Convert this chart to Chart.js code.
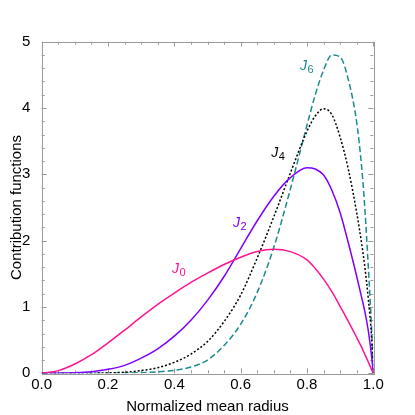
<!DOCTYPE html>
<html>
<head>
<meta charset="utf-8">
<script src="https://cdn.jsdelivr.net/npm/chart.js@4/dist/chart.umd.min.js"></script>
<style>
  html, body { margin: 0; padding: 0; background: #ffffff; }
  #wrap { width: 415px; height: 415px; }
</style>
</head>
<body>
<div id="wrap"><canvas id="c" width="415" height="415"></canvas></div>
<script>
// ---- data ----
const radius = [0, 0.05, 0.1, 0.15, 0.2, 0.25, 0.3, 0.35, 0.4, 0.45, 0.5, 0.55, 0.6, 0.65, 0.7, 0.75, 0.8, 0.825, 0.85, 0.875, 0.9, 0.925, 0.95, 0.965, 0.975, 0.985, 0.995, 1.0];
const J0 = [0, 0.04, 0.14, 0.28, 0.46, 0.65, 0.85, 1.04, 1.21, 1.37, 1.51, 1.64, 1.75, 1.835, 1.87, 1.835, 1.71, 1.58, 1.42, 1.23, 1.01, 0.78, 0.54, 0.39, 0.28, 0.17, 0.055, 0];
const J2 = [0, 0.001, 0.008, 0.025, 0.06, 0.12, 0.23, 0.37, 0.56, 0.80, 1.10, 1.46, 1.88, 2.30, 2.67, 2.95, 3.10, 3.08, 2.99, 2.76, 2.42, 1.96, 1.46, 1.14, 0.92, 0.64, 0.25, 0];
const J4 = [0, 0, 0.0005, 0.002, 0.006, 0.016, 0.04, 0.085, 0.165, 0.29, 0.48, 0.78, 1.18, 1.74, 2.36, 3.02, 3.65, 3.88, 3.99, 3.90, 3.56, 3.07, 2.42, 1.95, 1.58, 1.12, 0.52, 0];
const J6 = [0, 0, 0, 0.0005, 0.001, 0.004, 0.01, 0.022, 0.045, 0.095, 0.20, 0.42, 0.74, 1.22, 1.90, 2.78, 3.74, 4.20, 4.57, 4.80, 4.77, 4.42, 3.78, 3.10, 2.45, 1.60, 0.65, 0];
const seriesNames = ['J0', 'J2', 'J4', 'J6'];
const subscripts = ['0', '2', '4', '6'];
const xTickLabels = ['0.0', '0.2', '0.4', '0.6', '0.8', '1.0'];
const yTickLabels = ['0', '1', '2', '3', '4', '5'];
const xTitle = 'Normalized mean radius';
const yTitle = 'Contribution functions';
// curve label anchors (data coords: left/baseline of "J")
const labelX = [0.393, 0.577, 0.692, 0.779];
const labelY = [1.51, 2.21, 3.26, 4.57];

const colors = ['#ff1493', '#8000ff', '#000000', '#1a8c8c'];
const dashes = [[], [], [2, 2], [6, 3]];
const seriesData = [J0, J2, J4, J6];

const FONT = '"Liberation Sans", Arial, Helvetica, sans-serif';

const framePlugin = {
  id: 'frame',
  beforeDatasetsDraw(chart) {
    const { ctx, chartArea: { left, right, top, bottom }, scales: { x, y } } = chart;
    ctx.save();
    ctx.strokeStyle = '#9a9a9a';
    ctx.lineWidth = 1;
    ctx.beginPath();
    for (let i = 0; i <= 20; i++) {
      const px = Math.round(x.getPixelForValue(i * 0.05)) + 0.5;
      const len = (i % 4 === 0) ? 5 : 3;
      ctx.moveTo(px, bottom); ctx.lineTo(px, bottom - len);
      ctx.moveTo(px, top); ctx.lineTo(px, top + len);
    }
    for (let i = 0; i <= 25; i++) {
      const py = Math.round(y.getPixelForValue(i * 0.2)) + 0.5;
      const len = (i % 5 === 0) ? 5 : 3;
      ctx.moveTo(left, py); ctx.lineTo(left + len, py);
      ctx.moveTo(right, py); ctx.lineTo(right - len, py);
    }
    ctx.stroke();
    ctx.strokeRect(Math.round(left) + 0.5, Math.round(top) + 0.5, Math.round(right - left), Math.round(bottom - top));
    ctx.restore();
  },
  afterDatasetsDraw(chart) {
    const { ctx, scales: { x, y } } = chart;
    ctx.save();
    ctx.textBaseline = 'alphabetic';
    ctx.textAlign = 'left';
    for (let i = 0; i < seriesNames.length; i++) {
      const px = x.getPixelForValue(labelX[i]);
      const py = y.getPixelForValue(labelY[i]);
      ctx.fillStyle = colors[i];
      ctx.font = 'italic 14px ' + FONT;
      ctx.fillText('J', px, py);
      const w = ctx.measureText('J').width;
      ctx.font = '11px ' + FONT;
      ctx.fillText(subscripts[i], px + w + 0.5, py + 3);
    }
    ctx.restore();
  }
};

new Chart(document.getElementById('c'), {
  type: 'line',
  data: {
    datasets: seriesData.map((arr, i) => ({
      label: seriesNames[i],
      data: radius.map((r, k) => ({ x: r, y: arr[k] })),
      borderColor: colors[i],
      borderWidth: 1.5,
      borderDash: dashes[i],
      pointRadius: 0,
      fill: false,
      cubicInterpolationMode: 'monotone'
    }))
  },
  options: {
    responsive: false,
    animation: false,
    layout: { padding: { top: 41.7, right: 41.7, left: 0, bottom: 0 } },
    plugins: { legend: { display: false }, tooltip: { enabled: false } },
    scales: {
      x: {
        type: 'linear', min: 0, max: 1,
        grid: { display: false }, border: { display: false },
        ticks: {
          stepSize: 0.2, autoSkip: false, maxRotation: 0, padding: -5,
          color: '#000', font: { family: FONT, size: 15 },
          callback: (v, i) => xTickLabels[i]
        },
        title: { display: true, text: xTitle, color: '#000', font: { family: FONT, size: 15 }, padding: { top: 0, bottom: -1 } },
        afterFit(s) { s.height = 41.7; }
      },
      y: {
        type: 'linear', min: 0, max: 5,
        grid: { display: false }, border: { display: false },
        ticks: {
          stepSize: 1, autoSkip: false, padding: 3.4,
          color: '#000', font: { family: FONT, size: 15 },
          callback: (v, i) => yTickLabels[i]
        },
        title: { display: true, text: yTitle, color: '#000', font: { family: FONT, size: 15 }, padding: { top: 8, bottom: 0 } },
        afterFit(s) { s.width = 41.7; }
      }
    }
  },
  plugins: [framePlugin]
});
</script>
</body>
</html>
